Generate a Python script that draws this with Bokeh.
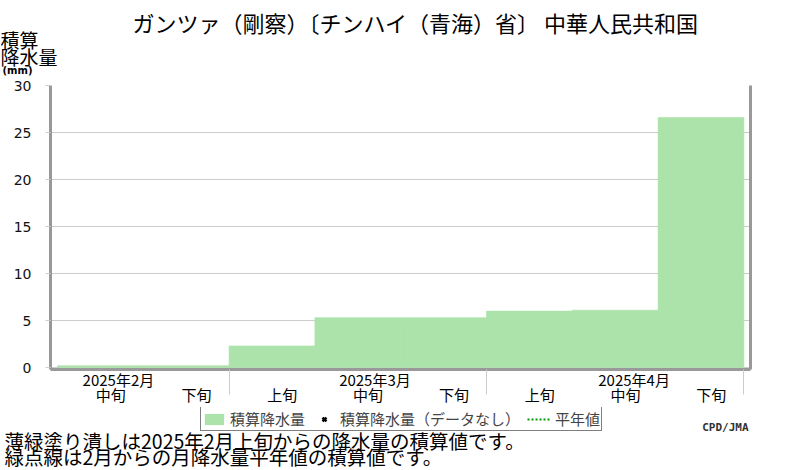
import numpy as np
from bokeh.plotting import figure
from bokeh.layouts import column
from bokeh.models import (Range1d, FixedTicker, LinearAxis, Label,
                          Legend, LegendItem, ColumnDataSource)
from bokeh.embed import file_html
from bokeh.resources import INLINE

# ---- data ----
dekad_labels = ["中旬", "下旬", "上旬", "中旬", "下旬", "上旬", "中旬", "下旬"]
month_labels = ["2025年2月", "2025年3月", "2025年4月"]
accum_precip = [0.2, 0.2, 2.3, 5.3, 5.3, 6.0, 6.1, 26.6]   # mm, cumulative per dekad
normal_x = []          # 平年値 (no data shown)
normal_y = []
nodata_x = []          # 積算降水量（データなし）
nodata_y = []
y_ticks = [0, 5, 10, 15, 20, 25, 30]
month_bounds = [2, 5, 8]
title_text = "ガンツァ（剛察）〔チンハイ（青海）省〕 中華人民共和国"
ylab1, ylab2, ylab3 = "積算", "降水量", "(mm)"
note1 = "薄緑塗り潰しは2025年2月上旬からの降水量の積算値です。"
note2 = "緑点線は2月からの月降水量平年値の積算値です。"
credit = "CPD/JMA"
legend_labels = ["積算降水量", "積算降水量（データなし）", "平年値"]

# label positions (dekad index units)
dekad_idx = list(range(len(accum_precip)))
dekad_label_x = [round(i + 0.62, 2) for i in dekad_idx]
month_label_x = [0.71, 3.70, 6.72]

JP = "Noto Sans CJK JP"
GRAY = "#999999"
LIGHT = "#cccccc"
GREEN = "#abe3aa"
NORMAL_GREEN = "#009900"

W = 800
TOP_H, MAIN_H = 76, 331
BOT_H = 470 - TOP_H - MAIN_H


def blank_fig(h):
    f = figure(width=W, height=h, x_range=Range1d(0, W), y_range=Range1d(0, h),
               min_border=0, output_backend="svg", toolbar_location=None,
               x_axis_location=None, y_axis_location=None, frame_align=False)
    f.outline_line_color = None
    f.xgrid.visible = False
    f.ygrid.visible = False
    return f


def lab(fig, text, x, y, size, align="left", font=JP, style="normal", color="black"):
    fig.add_layout(Label(x=x, y=y, x_units="screen", y_units="screen", text=text,
                         text_font=font, text_font_size=f"{size}px",
                         text_font_style=style, text_align=align,
                         text_baseline="middle", text_color=color))


# ---------- top: title and y-axis title ----------
top = blank_fig(TOP_H)
lab(top, title_text, 415, TOP_H - 21, 22, align="center")
lab(top, ylab1, 0, TOP_H - 38.5, 19)
lab(top, ylab2, 0, TOP_H - 56, 19)
lab(top, ylab3, 2, TOP_H - 70, 10, font="DejaVu Sans", style="bold")

# ---------- main chart ----------
p = figure(width=W, height=MAIN_H,
           min_border_left=50, min_border_right=50,
           min_border_top=85 - TOP_H, min_border_bottom=36,
           x_range=Range1d(-0.0816, 8.077), y_range=Range1d(-0.211, 30),
           output_backend="svg", toolbar_location=None,
           x_axis_location=None, y_axis_location=None, frame_align=False)
p.outline_line_color = None
p.xgrid.visible = False

src = ColumnDataSource(dict(left=dekad_idx,
                            right=[i + 1 for i in dekad_idx],
                            top=accum_precip,
                            bottom=[0] * len(accum_precip)))
p.quad(left="left", right="right", top="top", bottom="bottom",
       source=src, fill_color=GREEN, line_color=GREEN, line_width=0.6)
p.scatter(nodata_x, nodata_y, marker="x", size=7, line_color="black", line_width=2.5)
p.line(normal_x, normal_y, line_color=NORMAL_GREEN, line_width=2, line_dash="2 2")

yax = LinearAxis(ticker=FixedTicker(ticks=y_ticks),
                 axis_line_color=GRAY, axis_line_width=3,
                 major_tick_line_color=LIGHT, major_tick_out=5, major_tick_in=0,
                 minor_tick_line_color=None,
                 major_label_text_font="DejaVu Sans",
                 major_label_text_font_size="14px",
                 major_label_text_color="#111111",
                 major_label_standoff=14)
p.add_layout(yax, "left")

# axis line + month boundary ticks (as minor ticks, no labels)
xax = LinearAxis(ticker=FixedTicker(ticks=[], minor_ticks=month_bounds),
                 axis_line_color=GRAY, axis_line_width=3,
                 major_tick_line_color=None, major_tick_out=25, major_tick_in=0,
                 minor_tick_line_color=LIGHT, minor_tick_out=25, minor_tick_in=0,
                 major_label_standoff=0)
p.add_layout(xax, "below")
# month labels
max_ = LinearAxis(ticker=FixedTicker(ticks=month_label_x),
                  axis_line_color=None, major_tick_line_color=None,
                  minor_tick_line_color=None, major_tick_out=0, major_tick_in=0,
                  major_label_overrides=dict(zip(month_label_x, month_labels)),
                  major_label_text_font=JP, major_label_text_font_size="15px",
                  major_label_text_color="black", major_label_standoff=-26)
p.add_layout(max_, "below")
# dekad labels
dax = LinearAxis(ticker=FixedTicker(ticks=dekad_label_x),
                 axis_line_color=None, major_tick_line_color=None,
                 minor_tick_line_color=None, major_tick_out=0, major_tick_in=0,
                 major_label_overrides=dict(zip(dekad_label_x, dekad_labels)),
                 major_label_text_font=JP, major_label_text_font_size="15px",
                 major_label_text_color="black", major_label_standoff=-11)
p.add_layout(dax, "below")

rax = LinearAxis(ticker=FixedTicker(ticks=[]),
                 axis_line_color=GRAY, axis_line_width=3,
                 major_tick_line_color=None, minor_tick_line_color=None)
p.add_layout(rax, "right")

p.ygrid.ticker = FixedTicker(ticks=y_ticks)
p.ygrid.grid_line_color = LIGHT
p.ygrid.grid_line_width = 1

# ---------- bottom: legend, notes, credit ----------
bot = blank_fig(BOT_H)
nan = [np.nan]
r_bar = bot.quad(left=nan, right=nan, top=nan, bottom=nan,
                 fill_color=GREEN, line_color=None)
r_x = bot.scatter(nan, nan, marker="x", size=7, line_color="black", line_width=2.5)
r_norm = bot.line(nan, nan, line_color=NORMAL_GREEN, line_width=2, line_dash="2 2")
legend = Legend(items=[LegendItem(label=legend_labels[0], renderers=[r_bar]),
                       LegendItem(label=legend_labels[1], renderers=[r_x]),
                       LegendItem(label=legend_labels[2], renderers=[r_norm])],
                location=(200, 470 - 431), orientation="horizontal",
                glyph_width=24, glyph_height=14, label_standoff=4,
                label_height=15, spacing=7, padding=1, margin=0,
                border_line_color="black", border_line_width=1,
                label_text_font=JP, label_text_font_size="15px",
                background_fill_color="white", background_fill_alpha=1.0)
bot.add_layout(legend)
lab(bot, credit, 748, 470 - 427, 11, align="right", font="DejaVu Sans Mono",
    style="bold", color="#333333")
lab(bot, note1, 4, 470 - 440, 19.5)
lab(bot, note2, 4, 470 - 455.8, 19.5)

layout = column(top, p, bot, spacing=0)
open("out.html", "w").write(file_html(layout, INLINE))
